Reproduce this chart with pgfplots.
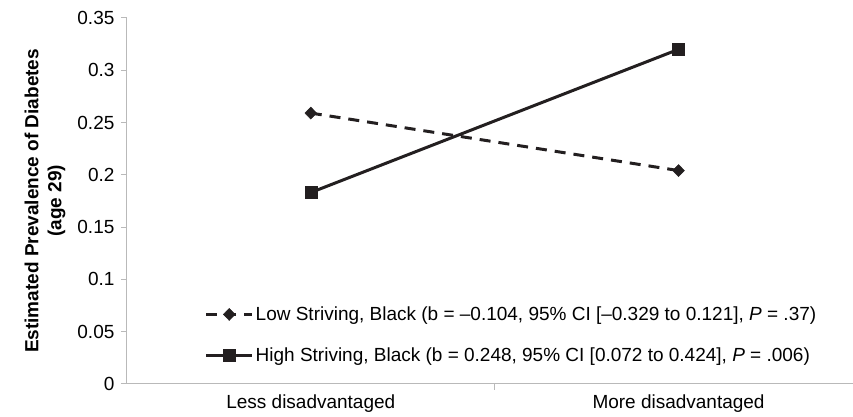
\documentclass[border=0pt]{standalone}
\usepackage{fontspec}
\setmainfont{Liberation Sans}
\usepackage{pgfplots}
\pgfplotsset{compat=1.18}
\definecolor{ink}{RGB}{35,31,32}
\definecolor{axgray}{RGB}{185,185,185}
\newcommand{\fs}{\fontsize{19}{23}\selectfont}
\begin{document}
\begin{tikzpicture}
\begin{axis}[
  name=ax,
  scale only axis,
  width=726pt, height=366pt,
  xmin=-0.5, xmax=1.473,
  ymin=0, ymax=0.35,
  axis x line*=bottom, axis y line*=left,
  axis line style={axgray, line width=1pt},
  ytick={0,0.05,0.1,0.15,0.2,0.25,0.3,0.35},
  yticklabel style={/pgf/number format/fixed, /pgf/number format/precision=2, font=\fs, xshift=-3pt},
  /pgf/number format/assume math mode=true,
  tick align=outside,
  major tick length=6pt,
  tick style={axgray, line width=1pt},
  xtick={0,1},
  xticklabels={Less disadvantaged, More disadvantaged},
  x tick style={draw=none},
  xticklabel style={font=\fs, yshift=-1pt},
  extra x ticks={0.5},
  extra x tick labels={},
  extra x tick style={x tick style={axgray, line width=1pt, draw=axgray}},
  ylabel={Estimated Prevalence of Diabetes\\(age 29)},
  ylabel style={font=\bfseries\fs, align=center, at={(axis description cs:-0.113,0.5)}, anchor=center},
  legend style={draw=none, fill=none, at={(axis description cs:0.107,0.05)}, anchor=south west, font=\fs, row sep=22pt, inner sep=0pt},
  legend cell align=left,
  legend image code/.code={\draw[#1, mark repeat=2, mark phase=2] plot coordinates {(0pt,0pt) (23pt,0pt) (46pt,0pt)};},
]
\addplot[ink, line width=3pt, dash pattern=on 11pt off 8pt, mark=diamond*, mark size=6pt, mark options={solid, line width=0.5pt, xscale=1.3}]
  coordinates {(0,0.259) (1,0.204)};
\addlegendentry{Low Striving, Black (b = –0.104, 95\% CI [–0.329 to 0.121], \textit{P} = .37)}
\addplot[ink, line width=3pt, mark=square*, mark size=6pt, mark options={solid, line width=0.5pt}]
  coordinates {(0,0.183) (1,0.320)};
\addlegendentry{High Striving, Black (b = 0.248, 95\% CI [0.072 to 0.424], \textit{P} = .006)}
\end{axis}
\path ([xshift=-127pt,yshift=-33pt]ax.south west) rectangle ([yshift=18pt]ax.north east);
\end{tikzpicture}
\end{document}
